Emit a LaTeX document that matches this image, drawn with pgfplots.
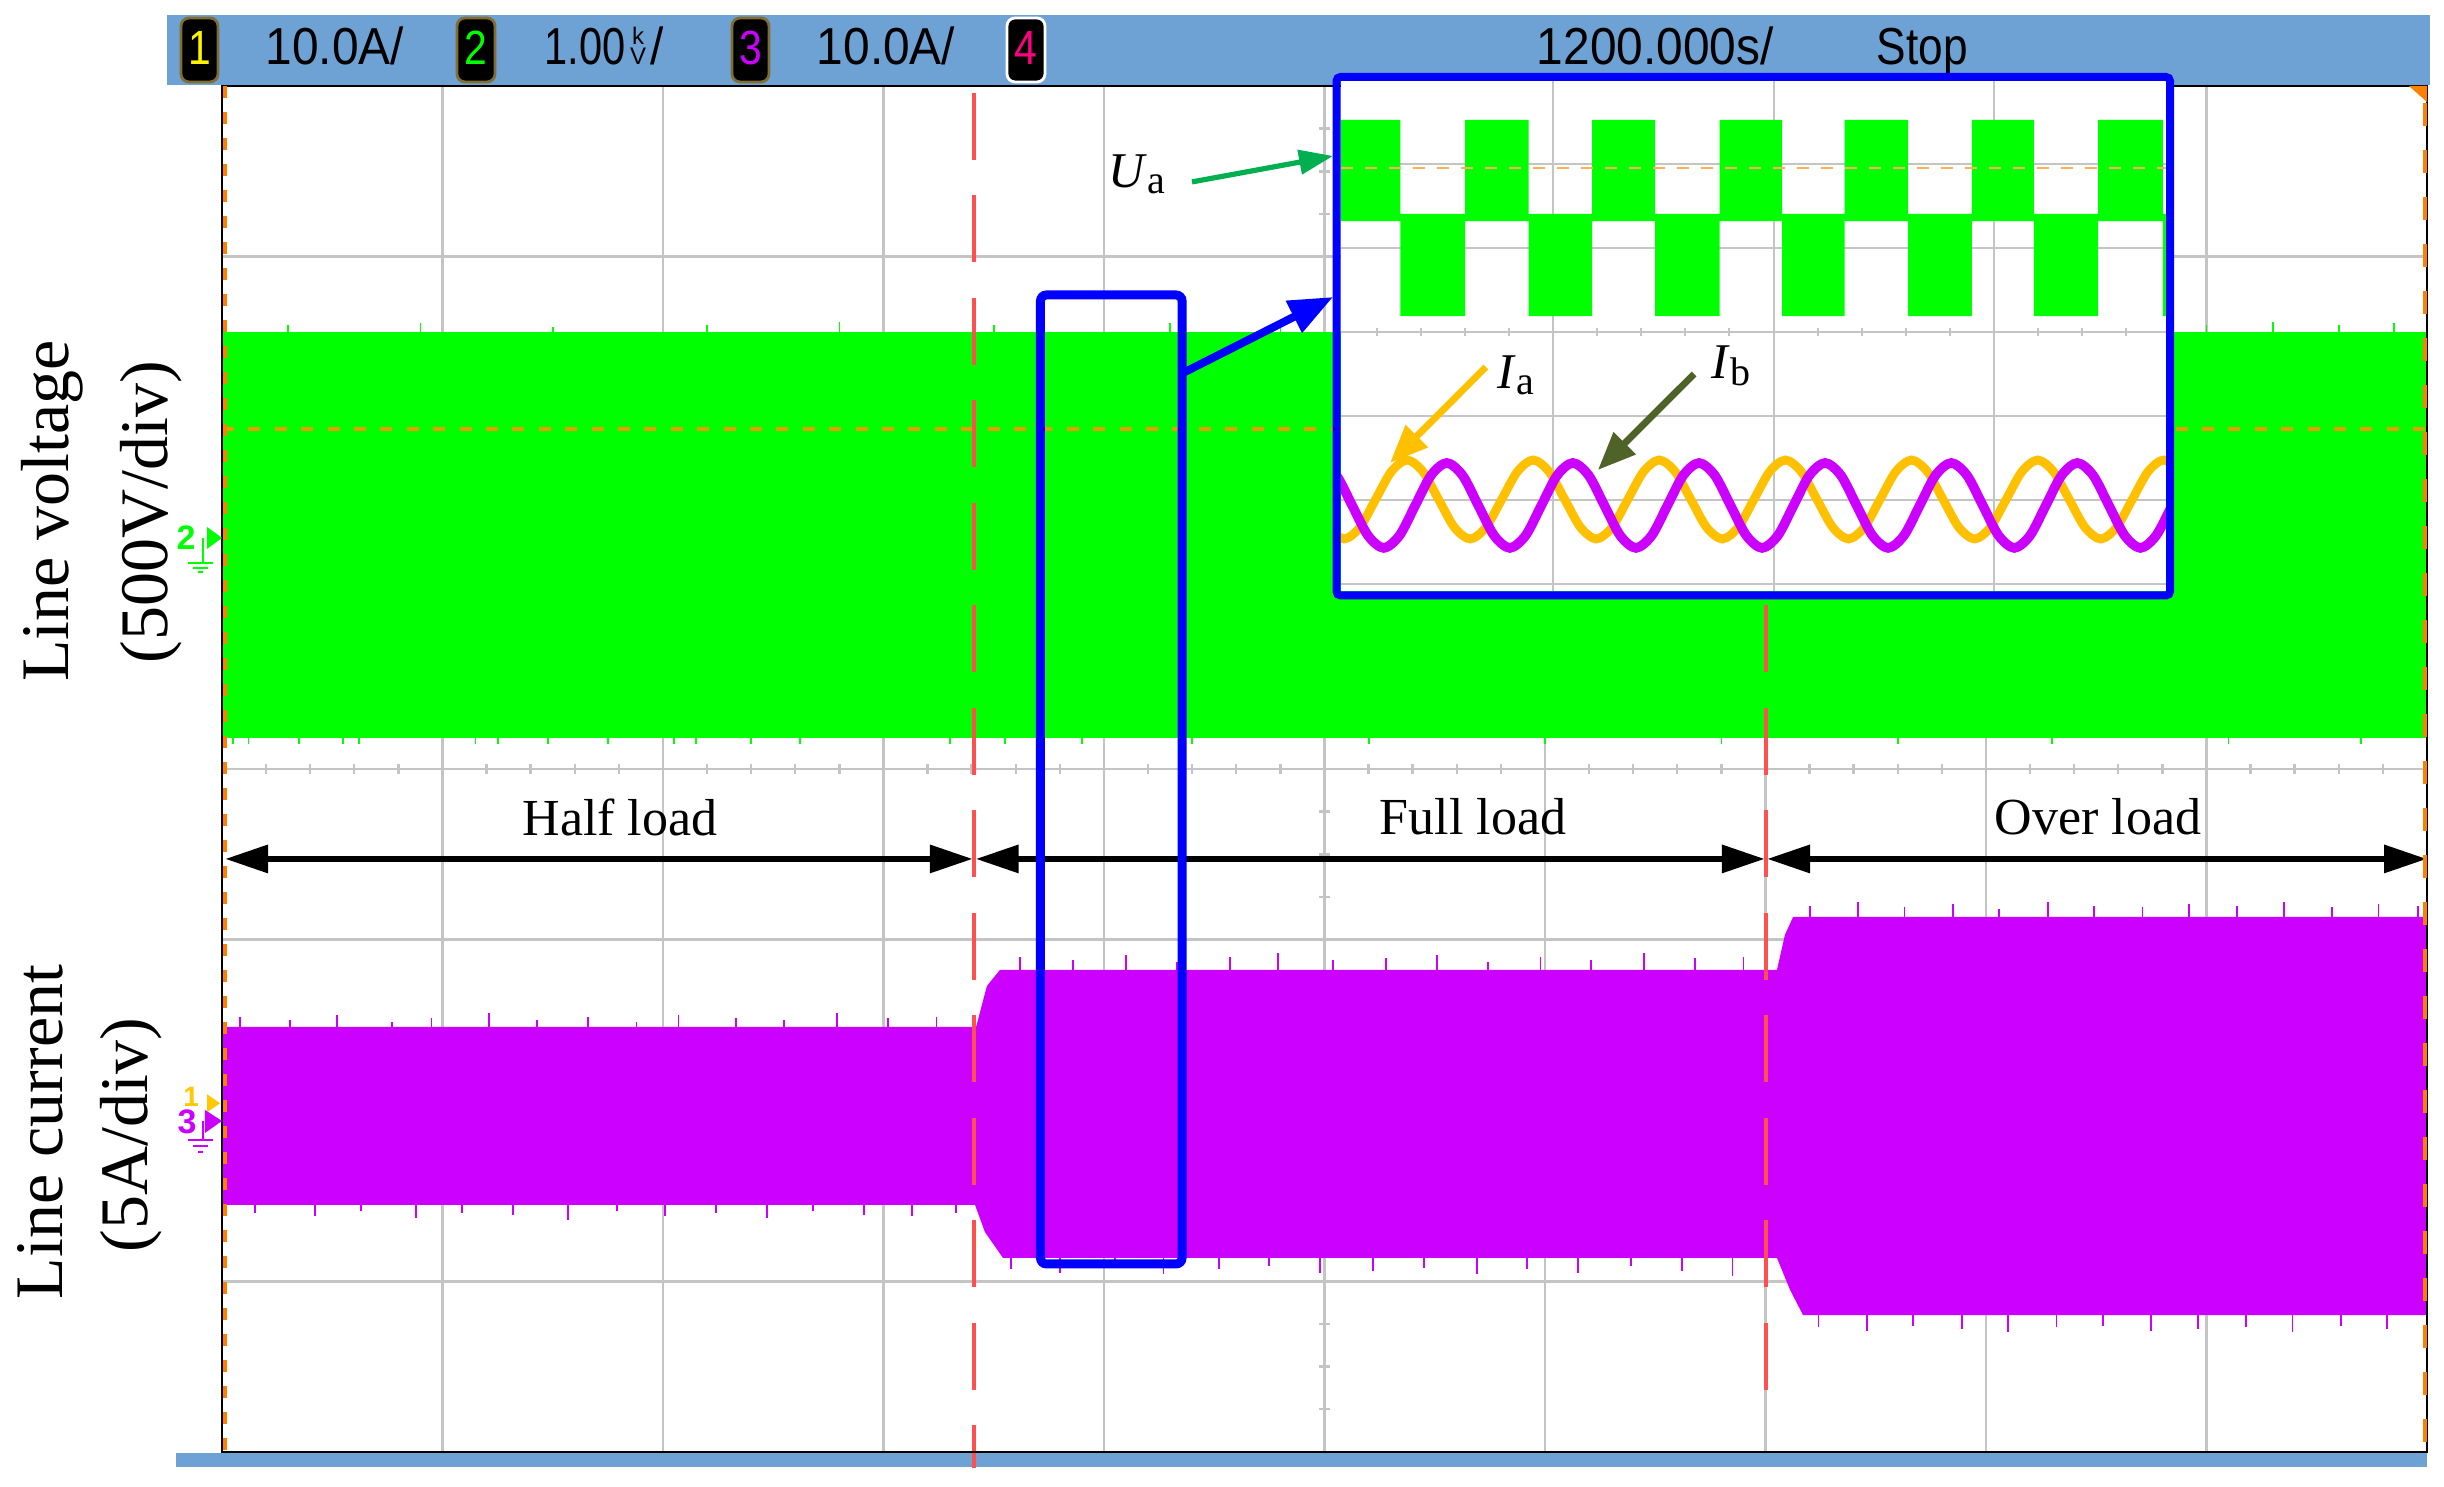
\documentclass[border=0pt]{standalone}
\usepackage{fontspec}
\setmainfont{Liberation Serif}
\newfontfamily\scopefont{Liberation Sans}
\usepackage{graphicx}
\usepackage{pgfplots}
\pgfplotsset{compat=1.18}
\usetikzlibrary{arrows.meta}

\definecolor{scgreen}{RGB}{0,255,0}
\definecolor{scmag}{RGB}{204,0,255}
\definecolor{scorange}{RGB}{255,192,0}
\definecolor{gridgray}{RGB}{196,196,196}
\definecolor{barblue}{RGB}{110,162,212}
\definecolor{redd}{RGB}{255,80,80}
\definecolor{edgeor}{RGB}{255,128,0}
\definecolor{ch1line}{RGB}{226,160,0}
\definecolor{boxgold}{RGB}{130,110,50}
\definecolor{ugreen}{RGB}{0,176,80}
\definecolor{ibgreen}{RGB}{79,98,40}
\definecolor{pink4}{RGB}{255,0,128}
\definecolor{insetor}{RGB}{255,175,90}
\definecolor{mkyellow}{RGB}{255,200,0}

\begin{document}
\begin{tikzpicture}
\begin{axis}[
  at={(0,0)}, anchor=south west,
  width=551.25pt, height=341.5pt, scale only axis,
  xmin=0, xmax=10, ymin=-4, ymax=4,
  xtick={0,1,...,10}, ytick={-4,-3,...,4},
  xticklabel=\empty, yticklabel=\empty,
  tick label style={inner sep=0pt, outer sep=0pt, opacity=0},
  major tick length=0pt,
  grid=major,
  grid style={gridgray, line width=0.7pt},
  axis line style={draw=none},
  clip=false,
]
% picture extent
\path (axis cs:-1.0068,-4.2050) rectangle (axis cs:10.0771,4.5037);

% status bars
\fill[barblue] (axis cs:-0.2494,4.4158) rectangle (axis cs:10.0136,4.0059);
\fill[barblue] (axis cs:-0.2086,-4.0059) rectangle (axis cs:10.0,-4.0878);

% minor ticks on centre lines
\pgfplotsinvokeforeach{0.2,0.4,...,9.8}{\draw[gridgray,line width=0.6pt] (axis cs:#1,-0.03) -- (axis cs:#1,0.03);}
\pgfplotsinvokeforeach{-3.75,-3.5,...,3.75}{\draw[gridgray,line width=0.6pt] (axis cs:4.977,#1) -- (axis cs:5.023,#1);}

% ---- channel 2: line voltage envelope ----
\addplot[fill=scgreen, draw=none] coordinates {(0,0.182) (0,2.559) (10,2.559) (10,0.182)} -- cycle;
\addplot[scgreen, line width=0.45pt, unbounded coords=jump] coordinates {
 (0.30,2.55) (0.30,2.60) (0.30,nan) (0.90,2.55) (0.90,2.61) (0.90,nan)
 (1.50,2.55) (1.50,2.59) (1.50,nan) (2.20,2.55) (2.20,2.60) (2.20,nan)
 (2.80,2.55) (2.80,2.62) (2.80,nan) (3.50,2.55) (3.50,2.60) (3.50,nan)
 (4.30,2.55) (4.30,2.61) (4.30,nan) (4.80,2.55) (4.80,2.59) (4.80,nan)
 (9.00,2.55) (9.00,2.60) (9.00,nan) (9.30,2.55) (9.30,2.62) (9.30,nan)
 (9.60,2.55) (9.60,2.60) (9.60,nan) (9.85,2.55) (9.85,2.61) (9.85,nan)};
\addplot[scgreen, line width=0.45pt, unbounded coords=jump] coordinates {
 (0.05,0.19) (0.05,0.146) (0.05,nan) (0.12,0.19) (0.12,0.146) (0.12,nan)
 (0.35,0.19) (0.35,0.146) (0.35,nan) (0.55,0.19) (0.55,0.146) (0.55,nan)
 (0.62,0.19) (0.62,0.146) (0.62,nan) (1.15,0.19) (1.15,0.146) (1.15,nan)
 (1.25,0.19) (1.25,0.146) (1.25,nan) (1.48,0.19) (1.48,0.146) (1.48,nan)
 (1.75,0.19) (1.75,0.146) (1.75,nan) (2.05,0.19) (2.05,0.146) (2.05,nan)
 (2.15,0.19) (2.15,0.146) (2.15,nan) (2.40,0.19) (2.40,0.146) (2.40,nan)
 (2.62,0.19) (2.62,0.146) (2.62,nan) (3.30,0.19) (3.30,0.146) (3.30,nan)
 (3.55,0.19) (3.55,0.146) (3.55,nan) (3.90,0.19) (3.90,0.146) (3.90,nan)
 (4.40,0.19) (4.40,0.146) (4.40,nan) (5.20,0.19) (5.20,0.146) (5.20,nan)
 (6.00,0.19) (6.00,0.146) (6.00,nan) (6.80,0.19) (6.80,0.146) (6.80,nan)
 (7.60,0.19) (7.60,0.146) (7.60,nan) (8.30,0.19) (8.30,0.146) (8.30,nan)
 (9.10,0.19) (9.10,0.146) (9.10,nan) (9.70,0.19) (9.70,0.146) (9.70,nan)};
\draw[ch1line, line width=0.8pt, dash pattern=on 3pt off 3.6pt] (axis cs:0,1.991) -- (axis cs:10,1.991);

% ---- channel 3: line current envelope ----
\addplot[fill=scmag, draw=none] coordinates {
 (0,-1.511) (3.420,-1.511) (3.469,-1.271) (3.528,-1.177) (7.052,-1.177) (7.088,-0.972) (7.125,-0.867) (10,-0.867)
 (10,-3.198) (7.170,-3.198) (7.111,-3.050) (7.052,-2.864) (3.542,-2.864) (3.460,-2.712) (3.415,-2.553) (0,-2.553)} -- cycle;
\addplot[scmag, line width=0.45pt, unbounded coords=jump] coordinates {
 (0.08,-1.52) (0.08,-1.45) (0.08,nan) (0.31,-1.52) (0.31,-1.47) (0.31,nan)
 (0.52,-1.52) (0.52,-1.44) (0.52,nan) (0.77,-1.52) (0.77,-1.48) (0.77,nan)
 (0.95,-1.52) (0.95,-1.46) (0.95,nan) (1.21,-1.52) (1.21,-1.43) (1.21,nan)
 (1.43,-1.52) (1.43,-1.47) (1.43,nan) (1.66,-1.52) (1.66,-1.45) (1.66,nan)
 (1.88,-1.52) (1.88,-1.48) (1.88,nan) (2.07,-1.52) (2.07,-1.44) (2.07,nan)
 (2.33,-1.52) (2.33,-1.46) (2.33,nan) (2.55,-1.52) (2.55,-1.47) (2.55,nan)
 (2.79,-1.52) (2.79,-1.43) (2.79,nan) (3.02,-1.52) (3.02,-1.46) (3.02,nan)
 (3.24,-1.52) (3.24,-1.45) (3.24,nan)
 (0.15,-2.54) (0.15,-2.60) (0.15,nan) (0.42,-2.54) (0.42,-2.62) (0.42,nan)
 (0.63,-2.54) (0.63,-2.59) (0.63,nan) (0.88,-2.54) (0.88,-2.63) (0.88,nan)
 (1.09,-2.54) (1.09,-2.60) (1.09,nan) (1.32,-2.54) (1.32,-2.61) (1.32,nan)
 (1.57,-2.54) (1.57,-2.64) (1.57,nan) (1.79,-2.54) (1.79,-2.59) (1.79,nan)
 (2.01,-2.54) (2.01,-2.62) (2.01,nan) (2.24,-2.54) (2.24,-2.60) (2.24,nan)
 (2.47,-2.54) (2.47,-2.63) (2.47,nan) (2.68,-2.54) (2.68,-2.59) (2.68,nan)
 (2.91,-2.54) (2.91,-2.61) (2.91,nan) (3.13,-2.54) (3.13,-2.62) (3.13,nan)
 (3.33,-2.54) (3.33,-2.60) (3.33,nan)
 (3.62,-1.19) (3.62,-1.10) (3.62,nan) (3.86,-1.19) (3.86,-1.12) (3.86,nan)
 (4.10,-1.19) (4.10,-1.09) (4.10,nan) (4.33,-1.19) (4.33,-1.13) (4.33,nan)
 (4.57,-1.19) (4.57,-1.10) (4.57,nan) (4.79,-1.19) (4.79,-1.08) (4.79,nan)
 (5.04,-1.19) (5.04,-1.12) (5.04,nan) (5.28,-1.19) (5.28,-1.11) (5.28,nan)
 (5.51,-1.19) (5.51,-1.09) (5.51,nan) (5.74,-1.19) (5.74,-1.13) (5.74,nan)
 (5.98,-1.19) (5.98,-1.10) (5.98,nan) (6.21,-1.19) (6.21,-1.12) (6.21,nan)
 (6.45,-1.19) (6.45,-1.08) (6.45,nan) (6.68,-1.19) (6.68,-1.11) (6.68,nan)
 (6.90,-1.19) (6.90,-1.10) (6.90,nan)
 (3.58,-2.85) (3.58,-2.93) (3.58,nan) (3.80,-2.85) (3.80,-2.95) (3.80,nan)
 (4.05,-2.85) (4.05,-2.92) (4.05,nan) (4.27,-2.85) (4.27,-2.96) (4.27,nan)
 (4.52,-2.85) (4.52,-2.93) (4.52,nan) (4.75,-2.85) (4.75,-2.91) (4.75,nan)
 (4.98,-2.85) (4.98,-2.95) (4.98,nan) (5.22,-2.85) (5.22,-2.94) (5.22,nan)
 (5.45,-2.85) (5.45,-2.92) (5.45,nan) (5.69,-2.85) (5.69,-2.96) (5.69,nan)
 (5.92,-2.85) (5.92,-2.93) (5.92,nan) (6.15,-2.85) (6.15,-2.95) (6.15,nan)
 (6.39,-2.85) (6.39,-2.91) (6.39,nan) (6.62,-2.85) (6.62,-2.94) (6.62,nan)
 (6.85,-2.85) (6.85,-2.97) (6.85,nan)
 (7.20,-0.88) (7.20,-0.80) (7.20,nan) (7.42,-0.88) (7.42,-0.78) (7.42,nan)
 (7.63,-0.88) (7.63,-0.81) (7.63,nan) (7.85,-0.88) (7.85,-0.79) (7.85,nan)
 (8.06,-0.88) (8.06,-0.82) (8.06,nan) (8.28,-0.88) (8.28,-0.78) (8.28,nan)
 (8.49,-0.88) (8.49,-0.80) (8.49,nan) (8.71,-0.88) (8.71,-0.81) (8.71,nan)
 (8.92,-0.88) (8.92,-0.79) (8.92,nan) (9.14,-0.88) (9.14,-0.80) (9.14,nan)
 (9.35,-0.88) (9.35,-0.78) (9.35,nan) (9.57,-0.88) (9.57,-0.81) (9.57,nan)
 (9.78,-0.88) (9.78,-0.79) (9.78,nan) (9.96,-0.88) (9.96,-0.80) (9.96,nan)
 (7.24,-3.19) (7.24,-3.27) (7.24,nan) (7.46,-3.19) (7.46,-3.29) (7.46,nan)
 (7.67,-3.19) (7.67,-3.26) (7.67,nan) (7.89,-3.19) (7.89,-3.28) (7.89,nan)
 (8.10,-3.19) (8.10,-3.30) (8.10,nan) (8.32,-3.19) (8.32,-3.27) (8.32,nan)
 (8.53,-3.19) (8.53,-3.26) (8.53,nan) (8.75,-3.19) (8.75,-3.29) (8.75,nan)
 (8.96,-3.19) (8.96,-3.28) (8.96,nan) (9.18,-3.19) (9.18,-3.27) (9.18,nan)
 (9.39,-3.19) (9.39,-3.30) (9.39,nan) (9.61,-3.19) (9.61,-3.26) (9.61,nan)
 (9.82,-3.19) (9.82,-3.28) (9.82,nan)};

% ---- load stage arrows and labels ----
\draw[black, line width=1.6pt, {Triangle[length=10.75pt,width=6.75pt]}-{Triangle[length=10.75pt,width=6.75pt]}] (axis cs:0.014,-0.527) -- (axis cs:3.405,-0.527);
\draw[black, line width=1.6pt, {Triangle[length=10.75pt,width=6.75pt]}-{Triangle[length=10.75pt,width=6.75pt]}] (axis cs:3.418,-0.527) -- (axis cs:6.997,-0.527);
\draw[black, line width=1.6pt, {Triangle[length=10.75pt,width=6.75pt]}-{Triangle[length=10.75pt,width=6.75pt]}] (axis cs:7.007,-0.527) -- (axis cs:10,-0.527);
\node[anchor=base, inner sep=0pt, font=\fontsize{13}{15}\selectfont] at (axis cs:1.805,-0.392) {Half load};
\node[anchor=base, inner sep=0pt, font=\fontsize{13}{15}\selectfont] at (axis cs:5.6735,-0.381) {Full load};
\node[anchor=base, inner sep=0pt, font=\fontsize{13}{15}\selectfont] at (axis cs:8.508,-0.381) {Over load};

% ---- load step markers ----
\draw[redd, line width=0.85pt, dash pattern=on 16.75pt off 8.875pt] (axis cs:3.410,3.959) -- (axis cs:3.410,-4.094);
\draw[redd, line width=0.85pt, dash pattern=on 16.75pt off 8.875pt] (axis cs:7.002,3.959) -- (axis cs:7.002,-3.649);

% ---- zoom window ----
\draw[blue, line width=2.25pt, rounded corners=1.5pt] (axis cs:3.712,2.776) rectangle (axis cs:4.354,-2.899);
\draw[blue, line width=2pt, -{Triangle[length=11pt,width=8.5pt]}] (axis cs:4.358,2.319) -- (axis cs:5.039,2.764);

% ---- screen frame ----
\draw[black, line width=0.6pt] (axis cs:0,-4) rectangle (axis cs:10,4);
\draw[edgeor, line width=0.8pt, dash pattern=on 3pt off 3.5pt] (axis cs:0.014,4) -- (axis cs:0.014,-4);
\draw[edgeor, line width=0.9pt, dash pattern=on 5.75pt off 6pt] (axis cs:9.991,3.90) -- (axis cs:9.991,-4);
\fill[edgeor] (axis cs:9.918,4.0) -- (axis cs:10,4.0) -- (axis cs:10,3.906) -- cycle;

% ---- top status line ----
\draw[fill=black, draw=boxgold, line width=0.7pt, rounded corners=2pt] (axis cs:-0.1859,4.3982) rectangle (axis cs:-0.0181,4.0234);
\draw[fill=black, draw=boxgold, line width=0.7pt, rounded corners=2pt] (axis cs:1.0658,4.3982) rectangle (axis cs:1.2381,4.0234);
\draw[fill=black, draw=boxgold, line width=0.7pt, rounded corners=2pt] (axis cs:2.3129,4.3982) rectangle (axis cs:2.4807,4.0234);
\draw[fill=black, draw=white, line width=0.7pt, rounded corners=2pt] (axis cs:3.5601,4.3982) rectangle (axis cs:3.7324,4.0234);
\node[anchor=base, inner sep=0pt, text=yellow, font=\scopefont\fontsize{12}{14}\selectfont] at (axis cs:-0.1020,4.1230) {\scalebox{0.85}[1]{1}};
\node[anchor=base, inner sep=0pt, text=scgreen, font=\scopefont\fontsize{12}{14}\selectfont] at (axis cs:1.1519,4.1230) {\scalebox{0.85}[1]{2}};
\node[anchor=base, inner sep=0pt, text=scmag, font=\scopefont\fontsize{12}{14}\selectfont] at (axis cs:2.3968,4.1230) {\scalebox{0.85}[1]{3}};
\node[anchor=base, inner sep=0pt, text=pink4, font=\scopefont\fontsize{12}{14}\selectfont] at (axis cs:3.6463,4.1230) {\scalebox{0.85}[1]{4}};
\node[anchor=base west, inner sep=0pt, font=\scopefont\fontsize{13}{15}\selectfont] at (axis cs:0.1950,4.1230) {\scalebox{0.92}[1]{10.0A/}};
\node[anchor=base west, inner sep=0pt, font=\scopefont\fontsize{13}{15}\selectfont] at (axis cs:1.4603,4.1230) {\scalebox{0.80}[1]{1.00}};
\node[anchor=base, inner sep=0pt, font=\scopefont\fontsize{6}{7}\selectfont] at (axis cs:1.8870,4.2450) {k};
\node[anchor=base, inner sep=0pt, font=\scopefont\fontsize{6}{7}\selectfont] at (axis cs:1.8870,4.1230) {V};
\node[anchor=base west, inner sep=0pt, font=\scopefont\fontsize{13}{15}\selectfont] at (axis cs:1.9380,4.1230) {\scalebox{0.92}[1]{/}};
\node[anchor=base west, inner sep=0pt, font=\scopefont\fontsize{13}{15}\selectfont] at (axis cs:2.6939,4.1230) {\scalebox{0.92}[1]{10.0A/}};
\node[anchor=base west, inner sep=0pt, font=\scopefont\fontsize{13}{15}\selectfont] at (axis cs:5.9592,4.1230) {\scalebox{0.92}[1]{1200.000s/}};
\node[anchor=base west, inner sep=0pt, font=\scopefont\fontsize{13}{15}\selectfont] at (axis cs:7.5011,4.1230) {\scalebox{0.85}[1]{Stop}};

% ---- channel ground markers ----
\node[inner sep=0pt, text=scgreen, font=\scopefont\bfseries\fontsize{8.5}{9}\selectfont] at (axis cs:-0.1633,1.3529) {2};
\fill[scgreen] (axis cs:-0.0680,1.4173) -- (axis cs:0,1.3529) -- (axis cs:-0.0680,1.2884) -- cycle;
\draw[scgreen, line width=0.6pt] (axis cs:-0.0862,1.3529) -- (axis cs:-0.0862,1.2064);
\draw[scgreen, line width=0.6pt] (axis cs:-0.1542,1.2064) -- (axis cs:-0.0408,1.2064);
\draw[scgreen, line width=0.6pt] (axis cs:-0.1315,1.1772) -- (axis cs:-0.0635,1.1772);
\draw[scgreen, line width=0.6pt] (axis cs:-0.1088,1.1537) -- (axis cs:-0.0862,1.1537);
\node[inner sep=0pt, text=mkyellow, font=\scopefont\bfseries\fontsize{7}{8}\selectfont] at (axis cs:-0.1400,-1.9202) {1};
\fill[mkyellow] (axis cs:-0.0680,-1.905) -- (axis cs:-0.009,-1.958) -- (axis cs:-0.0680,-2.0105) -- cycle;
\node[inner sep=0pt, text=scmag, font=\scopefont\bfseries\fontsize{8.5}{9}\selectfont] at (axis cs:-0.1587,-2.0656) {3};
\fill[scmag] (axis cs:-0.0771,-1.9971) -- (axis cs:0,-2.0615) -- (axis cs:-0.0771,-2.1318) -- cycle;
\draw[scmag, line width=0.6pt] (axis cs:-0.0862,-2.0615) -- (axis cs:-0.0862,-2.1728);
\draw[scmag, line width=0.6pt] (axis cs:-0.1542,-2.1728) -- (axis cs:-0.0408,-2.1728);
\draw[scmag, line width=0.6pt] (axis cs:-0.1315,-2.2079) -- (axis cs:-0.0635,-2.2079);
\draw[scmag, line width=0.6pt] (axis cs:-0.1088,-2.2431) -- (axis cs:-0.0862,-2.2431);

% ---- channel titles ----
\node[rotate=90, anchor=base, inner sep=0pt, font=\fontsize{17}{20}\selectfont] at (axis cs:-0.698,1.511) {Line voltage};
\node[rotate=90, anchor=base, inner sep=0pt, font=\fontsize{17}{20}\selectfont] at (axis cs:-0.2449,1.505) {(500V/div)};
\node[rotate=90, anchor=base, inner sep=0pt, font=\fontsize{17}{20}\selectfont] at (axis cs:-0.7211,-2.126) {Line current};
\node[rotate=90, anchor=base, inner sep=0pt, font=\fontsize{17}{20}\selectfont] at (axis cs:-0.3401,-2.1435) {(5A/div)};

% ---- anchors for the inset ----
\coordinate (insetSW) at (axis cs:5.0726,1.0395);
\coordinate (fA) at (axis cs:5.0544,4.0527);
\coordinate (fB) at (axis cs:8.8345,1.0161);
\coordinate (uaL) at (axis cs:4.018,3.403);
\coordinate (uaS) at (axis cs:4.399,3.438);
\coordinate (uaE) at (axis cs:5.039,3.590);
\coordinate (iaL) at (axis cs:5.782,2.231);
\coordinate (iaS) at (axis cs:5.732,2.354);
\coordinate (iaE) at (axis cs:5.297,1.792);
\coordinate (ibL) at (axis cs:6.753,2.284);
\coordinate (ibS) at (axis cs:6.676,2.313);
\coordinate (ibE) at (axis cs:6.240,1.751);
\end{axis}

% ================= zoomed inset =================
\begin{axis}[
  at={(insetSW)}, anchor=south west,
  width=206.375pt, height=127.625pt, scale only axis,
  xmin=-0.964, xmax=2.780, ymin=-3.089, ymax=2.988,
  xtick={0,1,2}, ytick={-3,-2,...,3},
  xticklabel=\empty, yticklabel=\empty,
  tick label style={inner sep=0pt, outer sep=0pt, opacity=0},
  major tick length=0pt,
  grid=major,
  grid style={gridgray, line width=0.5pt},
  axis line style={draw=none},
  axis background/.style={fill=white},
]
\pgfplotsinvokeforeach{-0.8,-0.6,...,2.6}{\draw[gridgray,line width=0.5pt] (axis cs:#1,-0.05) -- (axis cs:#1,0.05);}
% line voltage Ua (PWM blocks)
\addplot[fill=scgreen, draw=none] coordinates {
 (-0.964,2.524) (-0.692,2.524) (-0.692,1.405) (-0.399,1.405) (-0.399,2.524) (-0.111,2.524) (-0.111,1.405)
 (0.177,1.405) (0.177,2.524) (0.463,2.524) (0.463,1.405) (0.755,1.405) (0.755,2.524) (1.039,2.524)
 (1.039,1.405) (1.322,1.405) (1.322,2.524) (1.610,2.524) (1.610,1.405) (1.900,1.405) (1.900,2.524)
 (2.181,2.524) (2.181,1.405) (2.472,1.405) (2.472,2.524) (2.766,2.524) (2.766,1.405) (2.780,1.405)
 (2.780,0.190) (2.766,0.190) (2.766,1.321) (2.472,1.321) (2.472,0.190) (2.181,0.190) (2.181,1.321)
 (1.900,1.321) (1.900,0.190) (1.610,0.190) (1.610,1.321) (1.322,1.321) (1.322,0.190) (1.039,0.190)
 (1.039,1.321) (0.755,1.321) (0.755,0.190) (0.463,0.190) (0.463,1.321) (0.177,1.321) (0.177,0.190)
 (-0.111,0.190) (-0.111,1.321) (-0.399,1.321) (-0.399,0.190) (-0.692,0.190) (-0.692,1.321) (-0.964,1.321)} -- cycle;
\draw[insetor, line width=0.7pt, dash pattern=on 3pt off 3pt] (axis cs:-0.964,1.952) -- (axis cs:2.780,1.952);
% Ia
\addplot[scorange, line width=2.2pt, smooth] coordinates {
 (-1.0195,-2.326) (-0.948,-2.464) (-0.8765,-2.326) (-0.805,-1.994) (-0.7335,-1.662) (-0.662,-1.524)
 (-0.5905,-1.662) (-0.519,-1.994) (-0.4475,-2.326) (-0.376,-2.464) (-0.3045,-2.326) (-0.233,-1.994)
 (-0.1615,-1.662) (-0.090,-1.524) (-0.0185,-1.662) (0.053,-1.994) (0.1245,-2.326) (0.196,-2.464)
 (0.2675,-2.326) (0.339,-1.994) (0.4105,-1.662) (0.482,-1.524) (0.5535,-1.662) (0.625,-1.994)
 (0.6965,-2.326) (0.768,-2.464) (0.8395,-2.326) (0.911,-1.994) (0.9825,-1.662) (1.054,-1.524)
 (1.1255,-1.662) (1.197,-1.994) (1.2685,-2.326) (1.340,-2.464) (1.4115,-2.326) (1.483,-1.994)
 (1.5545,-1.662) (1.626,-1.524) (1.6975,-1.662) (1.769,-1.994) (1.8405,-2.326) (1.912,-2.464)
 (1.9835,-2.326) (2.055,-1.994) (2.1265,-1.662) (2.198,-1.524) (2.2695,-1.662) (2.341,-1.994)
 (2.4125,-2.326) (2.484,-2.464) (2.5555,-2.326) (2.627,-1.994) (2.6985,-1.662) (2.770,-1.524) (2.8415,-1.662)};
% Ib
\addplot[scmag, line width=2.4pt, smooth] coordinates {
 (-1.054,-1.559) (-0.9825,-1.707) (-0.911,-2.065) (-0.8395,-2.423) (-0.768,-2.571) (-0.6965,-2.423)
 (-0.625,-2.065) (-0.5535,-1.707) (-0.482,-1.559) (-0.4105,-1.707) (-0.339,-2.065) (-0.2675,-2.423)
 (-0.196,-2.571) (-0.1245,-2.423) (-0.053,-2.065) (0.0185,-1.707) (0.090,-1.559) (0.1615,-1.707)
 (0.233,-2.065) (0.3045,-2.423) (0.376,-2.571) (0.4475,-2.423) (0.519,-2.065) (0.5905,-1.707)
 (0.662,-1.559) (0.7335,-1.707) (0.805,-2.065) (0.8765,-2.423) (0.948,-2.571) (1.0195,-2.423)
 (1.091,-2.065) (1.1625,-1.707) (1.234,-1.559) (1.3055,-1.707) (1.377,-2.065) (1.4485,-2.423)
 (1.520,-2.571) (1.5915,-2.423) (1.663,-2.065) (1.7345,-1.707) (1.806,-1.559) (1.8775,-1.707)
 (1.949,-2.065) (2.0205,-2.423) (2.092,-2.571) (2.1635,-2.423) (2.235,-2.065) (2.3065,-1.707)
 (2.378,-1.559) (2.4495,-1.707) (2.521,-2.065) (2.5925,-2.423) (2.664,-2.571) (2.7355,-2.423) (2.807,-2.065)};
\end{axis}

% inset frame and callouts
\draw[blue, line width=2pt, rounded corners=1pt] (fA) rectangle (fB);
\node[anchor=base west, inner sep=0pt, font=\fontsize{12.5}{14}\selectfont] at (uaL) {\textit{U}\raisebox{-1.3pt}{\fontsize{10}{12}\selectfont a}};
\draw[ugreen, line width=1.3pt, -{Triangle[length=8.5pt,width=6pt]}] (uaS) -- (uaE);
\node[anchor=base west, inner sep=0pt, font=\fontsize{12.5}{14}\selectfont] at (iaL) {\textit{I}\raisebox{-1.7pt}{\fontsize{10}{12}\selectfont a}};
\draw[scorange, line width=1.7pt, -{Triangle[length=9.5pt,width=7.5pt]}] (iaS) -- (iaE);
\node[anchor=base west, inner sep=0pt, font=\fontsize{12.5}{14}\selectfont] at (ibL) {\textit{I}\raisebox{-1.7pt}{\fontsize{10}{12}\selectfont b}};
\draw[ibgreen, line width=1.7pt, -{Triangle[length=9.5pt,width=7.5pt]}] (ibS) -- (ibE);
\end{tikzpicture}
\end{document}
